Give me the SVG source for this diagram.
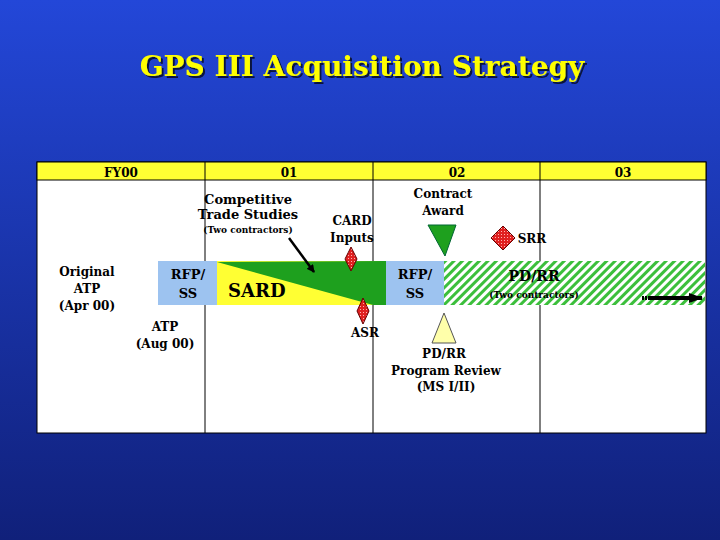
<svg xmlns="http://www.w3.org/2000/svg" width="720" height="540" viewBox="0 0 720 540">
<defs>
<linearGradient id="bg" x1="0" y1="0" x2="0" y2="1"><stop offset="0" stop-color="#2347d8"/><stop offset="1" stop-color="#10207a"/></linearGradient>
<pattern id="hatch" width="6" height="6" patternUnits="userSpaceOnUse" patternTransform="rotate(45)"><rect width="6" height="6" fill="#fff"/><rect width="3" height="6" fill="#3cbf3c"/></pattern>
<pattern id="dots" width="3" height="3" patternUnits="userSpaceOnUse"><rect width="3" height="3" fill="#e02020"/><rect width="1" height="1" fill="#ffb0b0"/></pattern>
<marker id="ah" markerWidth="8" markerHeight="8" refX="7" refY="4" orient="auto" markerUnits="userSpaceOnUse"><path d="M0,0L8,4L0,8z" fill="#000"/></marker>
<marker id="ah2" markerWidth="14" markerHeight="10" refX="13" refY="5" orient="auto" markerUnits="userSpaceOnUse"><path d="M0,0L14,5L0,10z" fill="#000"/></marker>
<filter id="sh" x="-5%" y="-20%" width="110%" height="140%"><feDropShadow dx="2" dy="2" stdDeviation="0.5" flood-color="#000" flood-opacity="0.7"/></filter>
</defs>
<style>
.t{font-family:"DejaVu Serif",serif;font-weight:bold;fill:#000;text-anchor:middle}
.grid{stroke:#000;stroke-width:1}
.dia{fill:url(#dots);stroke:#600;stroke-width:1}
</style>
<rect width="720" height="540" fill="url(#bg)"/>
<text x="362" y="76" font-family="DejaVu Serif,serif" font-weight="bold" font-size="28" text-anchor="middle" fill="#ffff00" filter="url(#sh)">GPS III Acquisition Strategy</text>
<g id="table">
<rect x="37" y="162" width="669" height="271" fill="#fff" stroke="#000"/>
<rect x="37" y="162" width="669" height="18" fill="#ffff33" stroke="#000"/>
<line class="grid" x1="205" y1="162" x2="205" y2="433"/>
<line class="grid" x1="373" y1="162" x2="373" y2="433"/>
<line class="grid" x1="540" y1="162" x2="540" y2="433"/>
<text class="t" x="121" y="177" font-size="12">FY00</text>
<text class="t" x="289" y="177" font-size="12">01</text>
<text class="t" x="457" y="177" font-size="12">02</text>
<text class="t" x="623" y="177" font-size="12">03</text>
</g>
<g id="bars">
<rect x="158" y="261" width="59" height="44" fill="#9dc3f0"/>
<text class="t" x="188" y="279" font-size="13">RFP/</text>
<text class="t" x="188" y="298" font-size="13">SS</text>
<rect x="217" y="261" width="169" height="44" fill="#ffff33"/>
<polygon points="217,262 386,261 386,305 373,305" fill="#1ea01e"/>
<text x="228" y="297" font-family="DejaVu Serif,serif" font-weight="bold" font-size="18" fill="#000">SARD</text>
<rect x="386" y="261" width="58" height="44" fill="#9dc3f0"/>
<text class="t" x="415" y="279" font-size="13">RFP/</text>
<text class="t" x="415" y="298" font-size="13">SS</text>
<rect x="444" y="261" width="261" height="44" fill="url(#hatch)"/>
<text class="t" x="534" y="281" font-size="14">PD/RR</text>
<text class="t" x="534" y="298" font-size="9">(Two contractors)</text>
</g>
<g id="labels">
<text class="t" x="87" y="276" font-size="12">Original</text>
<text class="t" x="87" y="293" font-size="12">ATP</text>
<text class="t" x="87" y="310" font-size="12">(Apr 00)</text>
<text class="t" x="165" y="331" font-size="12">ATP</text>
<text class="t" x="165" y="348" font-size="12">(Aug 00)</text>
<text class="t" x="248" y="204" font-size="13">Competitive</text>
<text class="t" x="248" y="219" font-size="13">Trade Studies</text>
<text class="t" x="248" y="233" font-size="9">(Two contractors)</text>
<text class="t" x="352" y="225" font-size="12">CARD</text>
<text class="t" x="352" y="242" font-size="12">Inputs</text>
<text class="t" x="443" y="198" font-size="12">Contract</text>
<text class="t" x="443" y="215" font-size="12">Award</text>
<text class="t" x="532" y="243" font-size="12">SRR</text>
<text class="t" x="365" y="337" font-size="12">ASR</text>
<text class="t" x="444" y="358" font-size="12">PD/RR</text>
<text class="t" x="446" y="375" font-size="12">Program Review</text>
<text class="t" x="446" y="391" font-size="12">(MS I/II)</text>
</g>
<g id="milestones">
<polygon class="dia" points="351,247 357,259 351,271 345,259"/>
<polygon class="dia" points="363,298 369,311 363,324 357,311"/>
<polygon class="dia" points="503,226 515,238 503,250 491,238"/>
<polygon points="428,225 456,225 445,256" fill="#1ea01e" stroke="#063"/>
<polygon points="444,313 456,343 432,343" fill="#ffffaa" stroke="#555"/>
</g>
<g id="connectors">
<line x1="289" y1="238" x2="314" y2="272" stroke="#000" stroke-width="2.5" marker-end="url(#ah)"/>
<line x1="642" y1="298" x2="650" y2="298" stroke="#000" stroke-width="4" stroke-dasharray="2,1"/>
<line x1="650" y1="298" x2="702" y2="298" stroke="#000" stroke-width="4" marker-end="url(#ah2)"/>
</g>
</svg>
